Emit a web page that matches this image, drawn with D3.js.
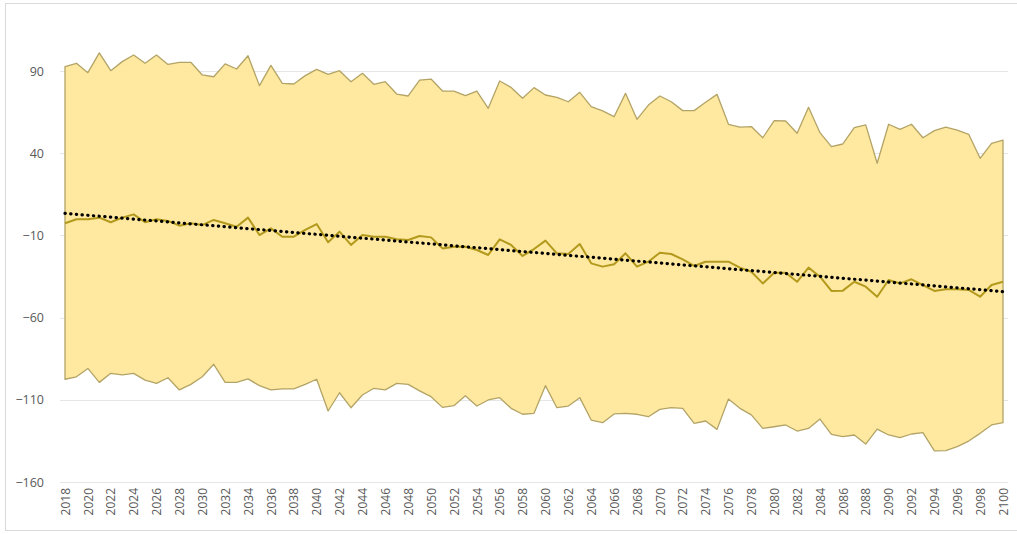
<!DOCTYPE html>
<html>
<head>
<meta charset="utf-8">
<script src="https://cdn.jsdelivr.net/npm/d3@7"></script>
<style>
  html, body { margin: 0; padding: 0; background: #ffffff; }
  svg { display: block; }
  text { font-family: "Open Sans", "Noto Sans", sans-serif; }
</style>
</head>
<body>
<svg id="chart" width="1017" height="534"></svg>
<script>
// Years on the category axis
const years = d3.range(2018, 2101);
// Upper bound of the range
const upper = [92.6, 94.7, 89, 101, 90.2, 95.7, 99.7, 94.7, 99.7, 94, 95.3, 95.3, 87.6, 86.5, 94.3, 91.2, 99.3, 81.1, 93.4, 82.5,
  82.1, 87.2, 91, 88, 90.2, 83.5, 88.6, 81.9, 83.5, 76, 74.8, 84.5, 85.1, 77.8, 77.8, 75, 77.8, 67.3, 83.9, 80,
  73.4, 79.9, 75.4, 74, 71.3, 77, 68.3, 65.7, 62.2, 76.4, 60.6, 69.3, 74.8, 71.3, 65.9, 65.9, 71, 75.8, 57.6, 55.8,
  56.2, 49.4, 59.8, 59.6, 52.1, 67.9, 52.5, 44, 45.6, 55.5, 57.2, 33.9, 57.6, 54.5, 57.6, 49.4, 53.7, 55.8, 54.1, 51.5,
  36.9, 46, 48];
// Central series
const middle = [-2.6, -0.2, -0.2, 0.8, -2, 0.8, 2.8, -2, -0.2, -1.2, -4.1, -2.6, -3.7, -0.6, -2.6, -4.7, 0.8, -9.8, -5.7, -10.8,
  -10.8, -6.7, -3.1, -14.2, -7.7, -15.8, -9.8, -10.8, -10.8, -12.4, -12.8, -10.4, -11.2, -17.9, -16.9, -16.9, -18.9, -21.9, -12.4, -15.8,
  -22.5, -18.3, -13.2, -20.9, -21.3, -15.2, -27, -29, -27.6, -20.9, -29, -26, -20.5, -21.3, -24.6, -28.6, -26, -26, -26, -29.6,
  -32.1, -39.2, -32.7, -32.7, -38.2, -29.6, -35.1, -43.8, -43.6, -38.2, -41.2, -47.3, -37.1, -39.2, -36.7, -40.2, -43.8, -42.8, -42.8, -43.2,
  -47.3, -40.2, -38.2];
// Lower bound of the range
const lower = [-97.5, -96, -90.9, -99.4, -93.9, -94.9, -93.9, -98, -100, -96.6, -104, -100.6, -96, -88.4, -99.4, -99.4, -97.3, -101.4, -104, -103.4,
  -103.4, -100.6, -97.5, -116.8, -105.7, -114.8, -107.1, -103, -104, -100, -100.6, -104.6, -108.1, -114.6, -113.6, -107.5, -113.8, -110.1, -108.7, -115.2,
  -118.8, -118.2, -101.4, -114.8, -113.8, -108.7, -122.3, -123.9, -118.6, -118.2, -118.8, -120.3, -115.8, -114.8, -115.2, -124.3, -122.9, -128, -109.5, -115.2,
  -119.2, -127.4, -126.4, -125.3, -129, -127.4, -121.7, -131, -132.4, -131.4, -136.9, -127.8, -131.4, -133, -130.8, -130, -141.1, -140.9, -138.5, -135.1,
  -130.4, -125.3, -123.9];
// Linear trend of the central series, at the first and last year
const trendYears = [2018, 2100];
const trendValues = [3.4, -44.2];
// Value axis ticks and year labels
const yTicks = [90, 40, -10, -60, -110, -160];
const xTicks = years.filter(y => (y - 2018) % 2 === 0);

const rows = years.map((yr, i) => ({ year: yr, hi: upper[i], mid: middle[i], lo: lower[i] }));

const svg = d3.select("#chart");

// outer frame
svg.append("rect")
  .attr("x", 5.5).attr("y", 3.5)
  .attr("width", 1030).attr("height", 527)
  .attr("fill", "none").attr("stroke", "#d9d9d9").attr("stroke-width", 1);

const x = d3.scaleLinear().domain([2018, 2100]).range([65, 1003]);
const y = d3.scaleLinear().domain([-160, 90]).range([482, 71]);

// horizontal gridlines
svg.append("g")
  .selectAll("line")
  .data(yTicks)
  .join("line")
  .attr("x1", 60).attr("x2", 1008)
  .attr("y1", d => Math.round(y(d)) + 0.5)
  .attr("y2", d => Math.round(y(d)) + 0.5)
  .attr("stroke", "#e6e6e6").attr("stroke-width", 1);

// shaded range between lower and upper bounds
const band = d3.area()
  .x(d => x(d.year))
  .y0(d => y(d.lo))
  .y1(d => y(d.hi));
svg.append("path")
  .datum(rows)
  .attr("d", band)
  .attr("fill", "#ffe699")
  .attr("fill-opacity", 0.93)
  .attr("stroke", "none");

// outline of the range (upper edge, lower edge, and the end caps)
const outline = [
  ...rows.map(d => [d.year, d.hi]),
  ...rows.slice().reverse().map(d => [d.year, d.lo])
];
svg.append("path")
  .attr("d", d3.line().x(d => x(d[0])).y(d => y(d[1]))(outline) + "Z")
  .attr("fill", "none")
  .attr("stroke", "#b3a466")
  .attr("stroke-width", 1.3)
  .attr("stroke-linejoin", "round");

// central series
svg.append("path")
  .datum(rows)
  .attr("d", d3.line().x(d => x(d.year)).y(d => y(d.mid)))
  .attr("fill", "none")
  .attr("stroke", "#b39a1c")
  .attr("stroke-width", 2)
  .attr("stroke-linejoin", "round");

// dotted linear trend
svg.append("path")
  .datum(trendYears.map((yr, i) => [yr, trendValues[i]]))
  .attr("d", d3.line().x(d => x(d[0])).y(d => y(d[1])))
  .attr("fill", "none")
  .attr("stroke", "#000000")
  .attr("stroke-width", 3.2)
  .attr("stroke-linecap", "round")
  .attr("stroke-dasharray", "0.3 5.4");

// value axis labels
const yAxis = svg.append("g")
  .attr("transform", "translate(60,0)")
  .call(d3.axisLeft(y).tickValues(yTicks).tickSize(0).tickPadding(16).tickFormat(d3.format("d")));
yAxis.select(".domain").remove();
yAxis.selectAll("text")
  .attr("fill", "#595959")
  .style("font-size", "12.5px");

// year labels, rotated
const xAxis = svg.append("g")
  .attr("transform", "translate(0,482)")
  .call(d3.axisBottom(x).tickValues(xTicks).tickSize(0).tickFormat(d3.format("d")));
xAxis.select(".domain").remove();
xAxis.selectAll("text")
  .attr("fill", "#595959")
  .style("font-size", "12px")
  .attr("text-anchor", "end")
  .attr("dy", "0.35em")
  .attr("transform", "translate(0,6) rotate(-90)")
  .attr("x", 0).attr("y", 0);
</script>
</body>
</html>
